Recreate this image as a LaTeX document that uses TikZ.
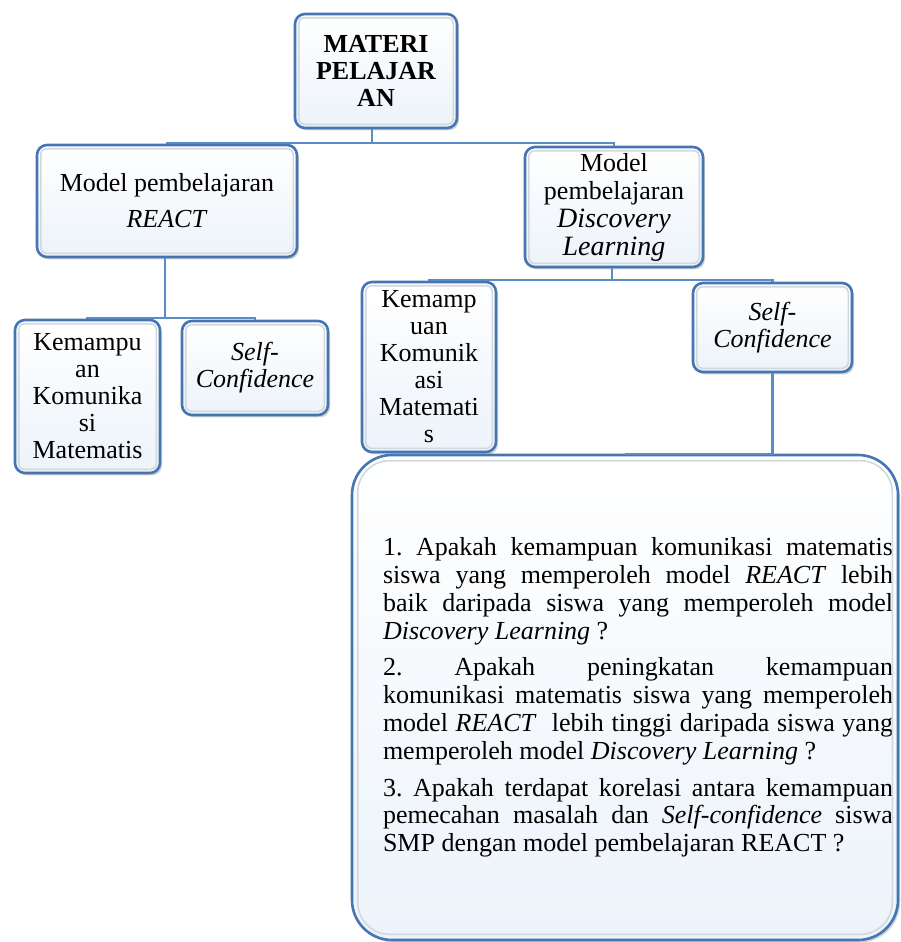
\documentclass[tikz,border=0pt]{standalone}
\usepackage{fontspec}
\setmainfont{Liberation Serif}
\usetikzlibrary{shadows}
\definecolor{boxedge}{RGB}{70,118,178}
\definecolor{boxfill}{RGB}{236,243,250}
\definecolor{linkblue}{RGB}{92,140,200}
\definecolor{bevelgray}{RGB}{210,216,224}
\begin{document}
\begin{tikzpicture}[x=0.5pt, y=-0.5pt,
  box/.style={draw=boxedge, line width=1.3pt, rounded corners=5pt, top color=white, bottom color=boxfill,
    drop shadow={shadow xshift=1pt, shadow yshift=-1.2pt, opacity=0.35},
    align=center, inner sep=0pt, font=\fontsize{13pt}{13.5pt}\selectfont},
  link/.style={draw=linkblue, line width=1.2pt},
  bevel/.style={draw=bevelgray, line width=0.8pt, rounded corners=3pt}]
\useasboundingbox (0,0) rectangle (900,942);
% boxes
\node [box, minimum width=81pt, minimum height=57pt, font=\fontsize{13pt}{13.5pt}\selectfont\bfseries] (matpel) at (376,71) {MATERI\\PELAJAR\\AN};
\node [box, minimum width=130pt, minimum height=56pt, font=\fontsize{13pt}{18pt}\selectfont] (react) at (167,201) {Model pembelajaran\\\textit{REACT}};
\node [box, minimum width=89pt, minimum height=60pt, font=\fontsize{13pt}{14pt}\selectfont] (disc) at (614,207) {Model\\pembelajaran\\{\fontsize{14pt}{15pt}\selectfont\textit{Discovery}}\\{\fontsize{14pt}{15pt}\selectfont\textit{Learning}}};
\node [box, minimum width=72.5pt, minimum height=76.5pt] (komA) at (87.5,396.5) {Kemampu\\an\\Komunika\\si\\Matematis};
\node [box, minimum width=73pt, minimum height=47pt] (selfA) at (255,368) {\textit{Self-}\\\textit{Confidence}};
\node [box, minimum width=67pt, minimum height=85pt] (komB) at (429,367) {Kemamp\\uan\\Komunik\\asi\\Matemati\\s};
\node [box, minimum width=79.5pt, minimum height=44.5pt] (selfB) at (772.5,327.5) {\textit{Self-}\\\textit{Confidence}};
\node [box, rounded corners=20pt, minimum width=273pt, minimum height=242.5pt, text width=268pt, align=justify,
  font=\fontsize{13pt}{13.9pt}\selectfont] (rq) at (625,697.5) {%
\parindent=0pt \parskip=4.5pt \leftskip=13pt \hyphenpenalty=10000 \tolerance=10000 \frenchspacing
1. Apakah kemampuan komunikasi matematis\linebreak
siswa yang memperoleh model \textit{REACT} lebih\linebreak
baik daripada siswa yang memperoleh model\linebreak
\textit{Discovery Learning} ?\par
2. Apakah peningkatan kemampuan\linebreak
komunikasi matematis siswa yang memperoleh\linebreak
model \textit{REACT}\ \ lebih tinggi daripada siswa yang\linebreak
memperoleh model \textit{Discovery Learning} ?\par
3. Apakah terdapat korelasi antara kemampuan\linebreak
pemecahan masalah dan \textit{Self-confidence} siswa\linebreak
SMP dengan model pembelajaran REACT ?\par};
\foreach \n in {matpel,react,disc,komA,selfA,komB,selfB}
  \draw [bevel] ([shift={(5,5)}]\n.north west) rectangle ([shift={(-5,-5)}]\n.south east);
\draw [bevel, rounded corners=16pt] ([shift={(7,7)}]rq.north west) rectangle ([shift={(-7,-7)}]rq.south east);
% junctions
\coordinate (j1) at (372,143);
\coordinate (j2) at (165,318);
\coordinate (j3) at (612,280);
% connectors
\draw [link] (matpel.south -| j1) -- (j1);
\draw [link] (react.north) -- (react.north |- j1) -- (disc.north |- j1) -- (disc.north);
\draw [link] (react.south -| j2) -- (j2);
\draw [link] (komA.north) -- (komA.north |- j2) -- (selfA.north |- j2) -- (selfA.north);
\draw [link] (disc.south -| j3) -- (j3);
\draw [link] (komB.north) -- (komB.north |- j3) -- (selfB.north |- j3) -- (selfB.north);
\draw [link] (selfB.south) |- (rq.north);
\end{tikzpicture}
\end{document}
